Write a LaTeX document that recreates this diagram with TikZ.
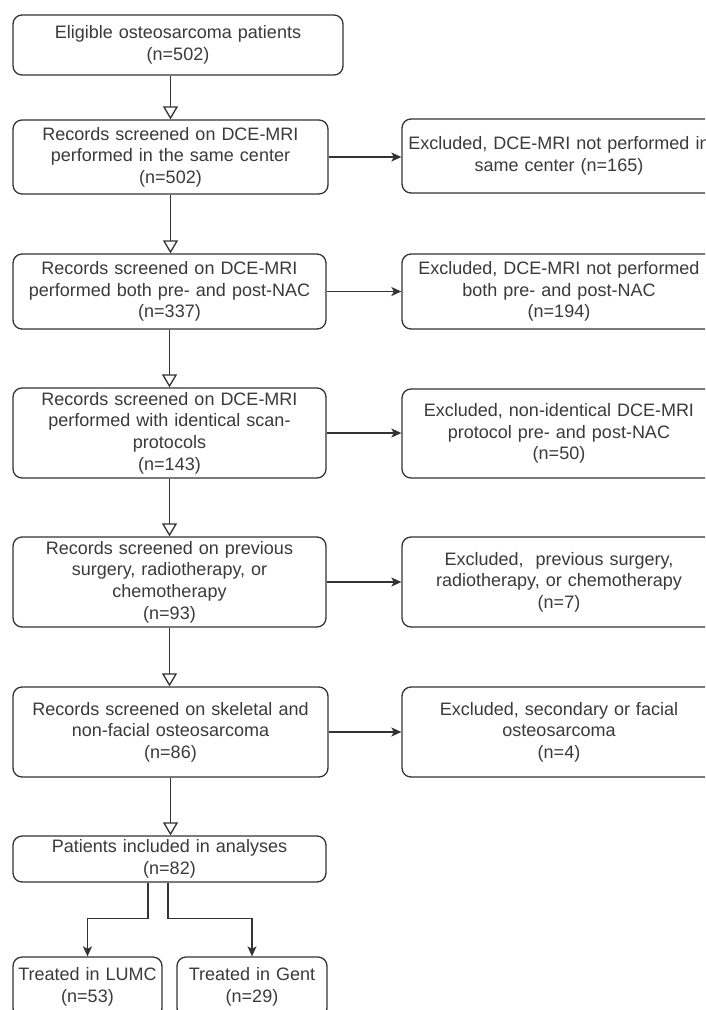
\documentclass[tikz,border=0pt]{standalone}
\usepackage{fontspec}
\setmainfont{Liberation Sans}
\usetikzlibrary{arrows.meta,calc}
\definecolor{linec}{HTML}{333333}
\definecolor{textc}{HTML}{3A3A3A}
\begin{document}
\begin{tikzpicture}[x=1pt,y=1pt,
  bx/.style 2 args={draw=linec, line width=1.3pt, rounded corners=9pt, align=center,
    inner sep=0pt, minimum width=#1pt, text width=#1pt, minimum height=#2pt,
    font=\fontsize{18}{21.6}\selectfont, text=textc},
  tri/.style={draw=linec, line width=1.3pt, -{Triangle[open,length=13pt,width=15pt]}},
  arr/.style={draw=linec, line width=1.3pt, -{Stealth[length=10pt,width=9pt,inset=2.5pt]}}]
\clip (0,0) rectangle (705,-1010);
\fill[white] (0,0) rectangle (705,-1010);

% left column
\node[bx={330}{60}] (B1) at (178,-45) {Eligible osteosarcoma patients\\(n=502)};
\node[bx={315}{74}] (B2) at (170.5,-157) {Records screened on DCE-MRI\\performed in the same center\\(n=502)};
\node[bx={313}{75}] (B3) at (169.5,-291.5) {Records screened on DCE-MRI\\performed both pre- and post-NAC\\(n=337)};
\node[bx={313}{90}] (B4) at (169.5,-433) {Records screened on DCE-MRI\\performed with identical scan-\\protocols\\(n=143)};
\node[bx={313}{90}] (B5) at (169.5,-582) {Records screened on previous\\surgery, radiotherapy, or\\chemotherapy\\(n=93)};
\node[bx={315}{90}] (B6) at (170.5,-732) {Records screened on skeletal and\\non-facial osteosarcoma\\(n=86)};
\node[bx={313}{46}] (B7) at (169.5,-859) {Patients included in analyses\\(n=82)};

% right column
\node[bx={314}{74}] (R1) at (559,-156) {Excluded, DCE-MRI not performed in\\same center (n=165)};
\node[bx={314}{75}] (R2) at (559,-291.5) {Excluded, DCE-MRI not performed\\both pre- and post-NAC\\(n=194)};
\node[bx={314}{89}] (R3) at (559,-433.5) {Excluded, non-identical DCE-MRI\\protocol pre- and post-NAC\\(n=50)};
\node[bx={314}{90}] (R4) at (559,-582) {Excluded,\ \ previous surgery,\\radiotherapy, or chemotherapy\\(n=7)};
\node[bx={314}{90}] (R5) at (559,-732) {Excluded, secondary or facial\\osteosarcoma\\(n=4)};

% bottom
\node[bx={149}{60}] (L1) at (87.5,-987) {Treated in LUMC\\(n=53)};
\node[bx={150}{60}] (L2) at (252,-987) {Treated in Gent\\(n=29)};

% vertical arrows
\draw[tri] (B1.south -| B2.north) -- (B2.north);
\draw[tri] (B2.south) -- (B2.south |- B3.north);
\draw[tri] (B3.south) -- (B3.south |- B4.north);
\draw[tri] (B4.south) -- (B4.south |- B5.north);
\draw[tri] (B5.south) -- (B5.south |- B6.north);
\draw[tri] (B6.south) -- (B6.south |- B7.north);

% horizontal arrows
\draw[arr] (B2.east) -- (B2.east -| R1.west);
\draw[arr] (B3.east) -- (B3.east -| R2.west);
\draw[arr] (B4.east) -- (B4.east -| R3.west);
\draw[arr] (B5.east) -- (B5.east -| R4.west);
\draw[arr] (B6.east) -- (B6.east -| R5.west);

% split
\draw[arr] ([xshift=-21.5pt]B7.south) -- ++(0,-36) -| (L1.north);
\draw[arr] ([xshift=-1.5pt]B7.south) -- ++(0,-36) -| (L2.north);
\end{tikzpicture}
\end{document}
